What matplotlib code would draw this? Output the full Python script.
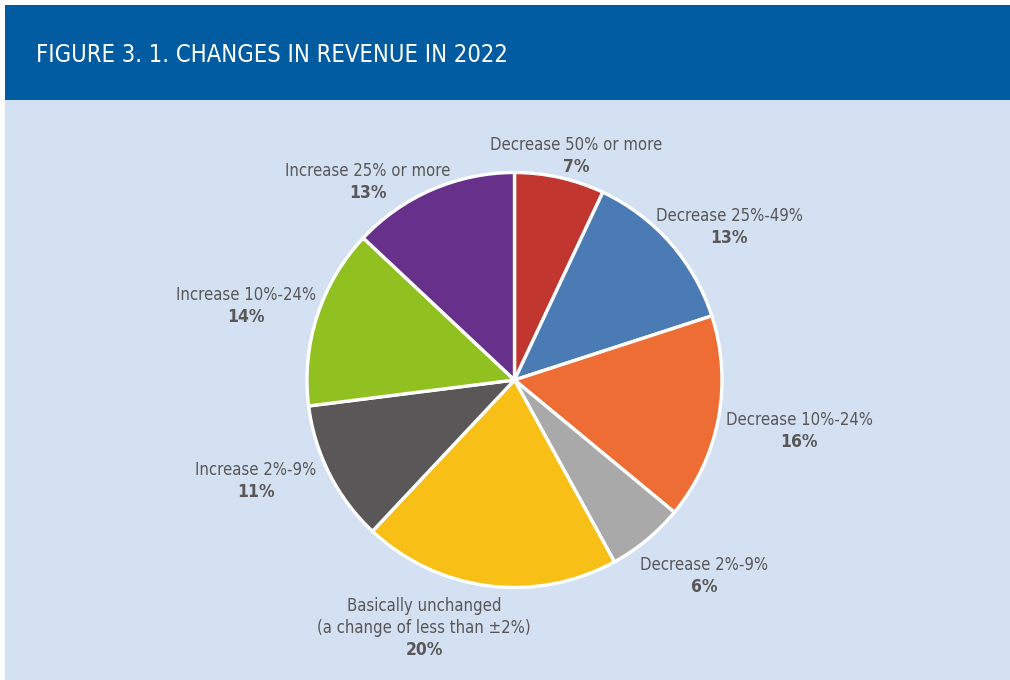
import matplotlib
matplotlib.use("Agg")
import matplotlib.pyplot as plt
from matplotlib.patches import Rectangle

# revenue change categories, clockwise from 12 o'clock
categories = ["Decrease 50% or more", "Decrease 25%-49%", "Decrease 10%-24%",
              "Decrease 2%-9%", "Basically unchanged\n(a change of less than \u00b12%)",
              "Increase 2%-9%", "Increase 10%-24%", "Increase 25% or more"]
shares = [7, 13, 16, 6, 20, 11, 14, 13]
colors = ["#c1372f", "#4b7bb4", "#ed6d35", "#a8a9a8", "#f8bf17",
          "#595757", "#90c121", "#67318b"]

# label anchor points in pixels (x, y from top)
labelPos = [(576, 145), (729, 216), (799, 420), (704, 565),
            (424, 617), (256, 470), (246, 295), (368, 171)]

W, H = 1010, 680
TEXT = "#595757"


def px(x, y):
    return x / W, 1 - y / H


def main():
    plt.rcParams["font.family"] = ["DejaVu Sans"]
    plt.rcParams["font.stretch"] = "condensed"
    fig = plt.figure(figsize=(W / 100, H / 100), dpi=100)
    fig.patch.set_facecolor("white")

    # panel background and header band
    fig.add_artist(Rectangle((5 / W, 0), 1, 1 - 100 / H, transform=fig.transFigure,
                             facecolor="#d4e1f3", edgecolor="none", zorder=0))
    fig.add_artist(Rectangle((5 / W, 1 - 100 / H), 1, 95 / H, transform=fig.transFigure,
                             facecolor="#005ba1", edgecolor="none", zorder=0))
    fig.text(*px(36, 55), "FIGURE 3. 1. CHANGES IN REVENUE IN 2022", color="white",
             fontsize=17, va="center", ha="left")

    cx, cy, r = 514.5, 380, 207.5
    pad = 3
    ax = fig.add_axes([(cx - r - pad) / W, 1 - (cy + r + pad) / H,
                       2 * (r + pad) / W, 2 * (r + pad) / H])
    ax.pie(shares, colors=colors, startangle=90, counterclock=False, radius=1,
           wedgeprops=dict(edgecolor="white", linewidth=2.4))
    lim = (r + pad) / r
    ax.set_xlim(-lim, lim)
    ax.set_ylim(-lim, lim)
    ax.axis("off")

    for name, value, (x, y) in zip(categories, shares, labelPos):
        nLines = name.count("\n") + 1
        top = y - 11 * nLines
        fig.text(*px(x, top + 2), name, color=TEXT, fontsize=12, ha="center", va="top",
                 linespacing=1.3)
        fig.text(*px(x, top + 22 * nLines + 11), f"{value}%", color=TEXT, fontsize=12.5,
                 fontweight="bold", ha="center", va="center")

    fig.savefig("out.png", dpi=100)


if __name__ == "__main__":
    main()
